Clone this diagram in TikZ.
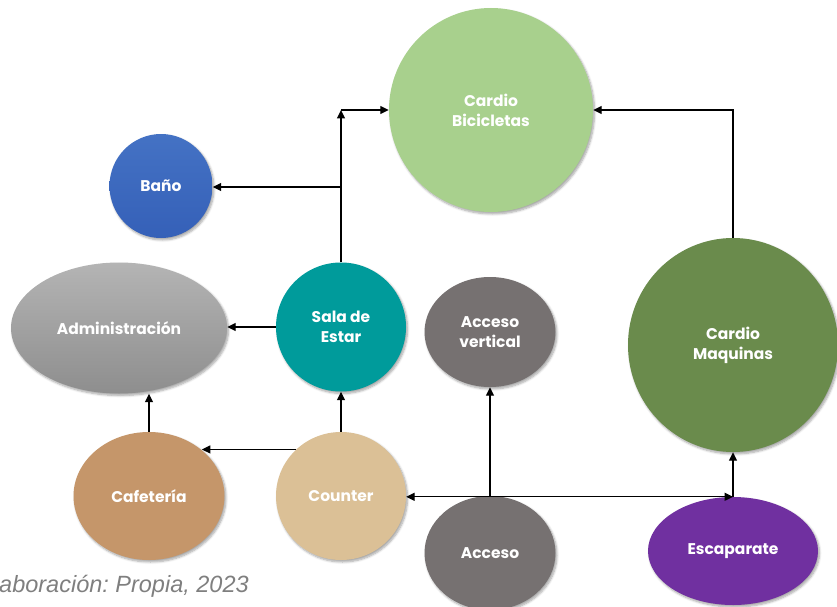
\documentclass[tikz,border=0pt]{standalone}
\usepackage{fontspec}
\setmainfont{Poppins}
\newfontfamily\capfont{Liberation Sans}
\usetikzlibrary{shapes.geometric,arrows.meta,shadows.blur}
\definecolor{cbic}{HTML}{A8D08D}
\definecolor{bano}{HTML}{4472C4}
\definecolor{banod}{HTML}{3560B8}
\definecolor{admt}{HTML}{B4B4B4}
\definecolor{admb}{HTML}{8E8E8E}
\definecolor{sala}{HTML}{009B9B}
\definecolor{acc}{HTML}{767171}
\definecolor{cmaq}{HTML}{6A8B4C}
\definecolor{caf}{HTML}{C5966A}
\definecolor{cnt}{HTML}{DBC096}
\definecolor{esc}{HTML}{7030A0}
\definecolor{capgray}{HTML}{7F7F7F}
\frenchspacing
\tikzset{
  area/.style={ellipse, inner sep=0pt, text=white, align=center,
    font=\fontsize{15.5}{20}\selectfont\bfseries,
    blur shadow={shadow blur steps=6, shadow xshift=1.5pt, shadow yshift=-2pt, shadow opacity=35}},
  arr/.style={-{Triangle[length=8.5pt,width=8pt]}, line width=1.3pt, black},
  dbl/.style={{Triangle[length=8.5pt,width=8pt]}-{Triangle[length=8.5pt,width=8pt]}, line width=1.3pt, black}
}
\begin{document}
\begin{tikzpicture}[x=1pt,y=-1pt]
\useasboundingbox (0,0) rectangle (837,607);
% nodes
\node[area, fill=cbic, minimum width=204pt, minimum height=204pt] (cb) at (491,110) {Cardio\\Bicicletas};
\node[area, top color=bano, bottom color=banod, minimum width=103pt, minimum height=104pt] (bano) at (161,186) {Baño};
\node[area, top color=admt, bottom color=admb, minimum width=216pt, minimum height=131pt] (adm) at (119,328) {Administración};
\node[area, fill=sala, minimum width=130pt, minimum height=129pt] (sala) at (341,327) {Sala de\\Estar};
\node[area, fill=acc, minimum width=131pt, minimum height=110pt] (av) at (490,332) {Acceso\\vertical};
\node[area, fill=cmaq, minimum width=210pt, minimum height=214pt] (cm) at (733,345) {Cardio\\Maquinas};
\node[area, fill=caf, minimum width=151pt, minimum height=128pt] (cafe) at (149,496) {Cafetería};
\node[area, fill=cnt, minimum width=130pt, minimum height=128pt] (cnt) at (341,496) {Counter};
\node[area, fill=acc, minimum width=131pt, minimum height=114pt] (acc) at (490,553) {Acceso};
\node[area, fill=esc, minimum width=170pt, minimum height=108pt] (esc) at (733,551) {Escaparate};
% junctions
\coordinate (j1) at (341,110);
\coordinate (j2) at (341,187);
% connectors
\draw[arr] (sala.north) -- (j1);
\draw[arr] (j1) -- (j1 -| cb.west);
\draw[arr] (j2) -- (bano.east |- j2);
\draw[arr] (sala.west) -- (adm.east |- sala.west);
\draw[arr] (cnt.north) -- (sala.south);
\draw[arr] (cnt.134) -- (cafe.41 |- cnt.134);
\draw[arr] (cafe.north) -- (cafe.north |- adm.south);
\draw[arr] (acc.north) -- (av.south);
\draw[dbl] (cnt.east |- esc.north) -- (esc.north);
\draw[arr] (esc.north) -- (cm.south);
\draw[arr] (cm.north) |- (cb.east);
% caption
\node[anchor=base west, inner sep=0pt, text=capgray, font=\capfont\itshape\fontsize{23.5}{28}\selectfont] (cap) at (-1,592) {aboración: Propia, 2023};
\end{tikzpicture}
\end{document}
